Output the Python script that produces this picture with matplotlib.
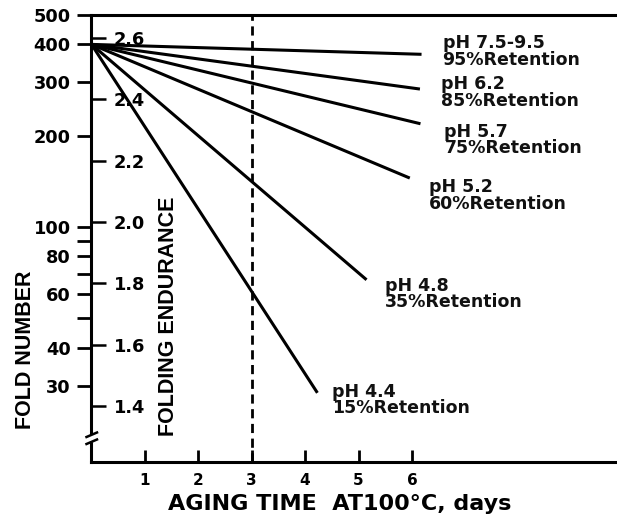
import matplotlib
matplotlib.use('Agg')
import matplotlib.pyplot as plt
from matplotlib.ticker import FixedLocator, NullFormatter
from matplotlib.patches import Rectangle
from matplotlib.lines import Line2D

plt.rcParams['font.family'] = ['DejaVu Sans']
plt.rcParams['font.weight'] = 'bold'

# ---- data ----
ph_labels = ['pH 7.5-9.5', 'pH 6.2', 'pH 5.7', 'pH 5.2', 'pH 4.8', 'pH 4.4']
retention = ['95%Retention', '85%Retention', '75%Retention',
             '60%Retention', '35%Retention', '15%Retention']
start_day = 0
start_fold = 400
end_days = [6.18, 6.15, 6.16, 5.96, 5.15, 4.23]
end_folds = [371, 285, 219, 145, 67, 28.4]
fold_ticks = [30, 40, 60, 80, 100, 200, 300, 400, 500]
fold_minor = [50, 70, 90]
endurance_ticks = [1.4, 1.6, 1.8, 2.0, 2.2, 2.4, 2.6]
day_ticks = [1, 2, 3, 4, 5, 6]
marker_day = 3

# label offsets (pixels) relative to line end
label_offsets = [(21, 11), (21, 5), (24, -8), (19, -9), (18, -6), (15, 1)]
line_gap = 16.5

W, H = 617, 514
fig = plt.figure(figsize=(W / 100, H / 100), dpi=100)
ax = fig.add_axes([91.5 / W, 52 / H, 525.5 / W, 447 / H])
ax.set_yscale('log')
ax.set_xlim(0, 9.84)
ax.set_ylim(16.8, 500)

for d, f in zip(end_days, end_folds):
    ax.plot([start_day, d], [start_fold, f], color='black', lw=2.2,
            solid_capstyle='butt')

for d, f, t1, t2, (dx, dy) in zip(end_days, end_folds, ph_labels, retention, label_offsets):
    ax.annotate(t1, xy=(d, f), xytext=(dx, dy), textcoords='offset pixels',
                ha='left', va='center', fontsize=12.5, fontweight='bold', color='#111111')
    ax.annotate(t2, xy=(d, f), xytext=(dx, dy - line_gap), textcoords='offset pixels',
                ha='left', va='center', fontsize=12.5, fontweight='bold', color='#111111')

ax.axvline(marker_day, color='black', lw=2, dashes=(3.3, 2.0))

# spines
ax.spines['right'].set_visible(False)
for s in ['left', 'top', 'bottom']:
    ax.spines[s].set_linewidth(2.2)

# x ticks
ax.set_xticks(day_ticks)
ax.set_xticklabels([str(v) for v in day_ticks])
ax.tick_params(axis='x', direction='in', length=8.6, width=2, pad=8, labelsize=11)

# outer y ticks (fold number)
ax.yaxis.set_major_locator(FixedLocator(fold_ticks))
ax.set_yticklabels([str(v) for v in fold_ticks])
ax.yaxis.set_minor_locator(FixedLocator(fold_minor))
ax.yaxis.set_minor_formatter(NullFormatter())
ax.tick_params(axis='y', which='both', direction='out', length=10, width=2,
               pad=5, labelsize=12.8)
ax.yaxis.get_major_ticks()[-1].tick1line.set_visible(False)

# inner y axis (folding endurance)
ax2 = ax.twinx()
ax2.set_ylim(1.218, 2.674)
ax2.spines['right'].set_position(('axes', 0))
for s in ax2.spines.values():
    s.set_visible(False)
ax2.set_yticks(endurance_ticks)
ax2.set_yticklabels([f'{v:.1f}' for v in endurance_ticks])
ax2.tick_params(axis='y', direction='out', length=11, width=1.8, pad=5,
                labelsize=12.8, right=True, labelright=True, left=False, labelleft=False)

# axis labels
ax.set_xlabel('AGING TIME  AT100\u00b0C, days', fontsize=16, fontweight='bold',
              va='center', ha='center')
ax.xaxis.set_label_coords(0.473, -0.095)
ax.set_ylabel('FOLD NUMBER', fontsize=15.5, family='Liberation Sans', fontweight='bold',
              ha='center', va='center', rotation=90)
ax.yaxis.set_label_coords(-0.1265, 0.2505)
ax2.set_ylabel('FOLDING ENDURANCE', fontsize=15.5, family='Liberation Sans',
               fontweight='bold', ha='center', va='center', rotation=90)
ax2.yaxis.set_label_coords(0.1456, 0.3266)

# axis break on left spine
ax.add_patch(Rectangle((-0.012, (462 - 441) / 447), 0.024, 6 / 447,
                       transform=ax.transAxes, color='white', clip_on=False, zorder=5))
for (x0, y0, x1, y1) in [(86.5, 437, 97, 432.5), (86.5, 444, 97, 439.5)]:
    fig.add_artist(Line2D([x0 / W, x1 / W], [1 - y0 / H, 1 - y1 / H],
                          transform=fig.transFigure, color='black', lw=1.8, zorder=6))

fig.savefig('out.png', dpi=100)
